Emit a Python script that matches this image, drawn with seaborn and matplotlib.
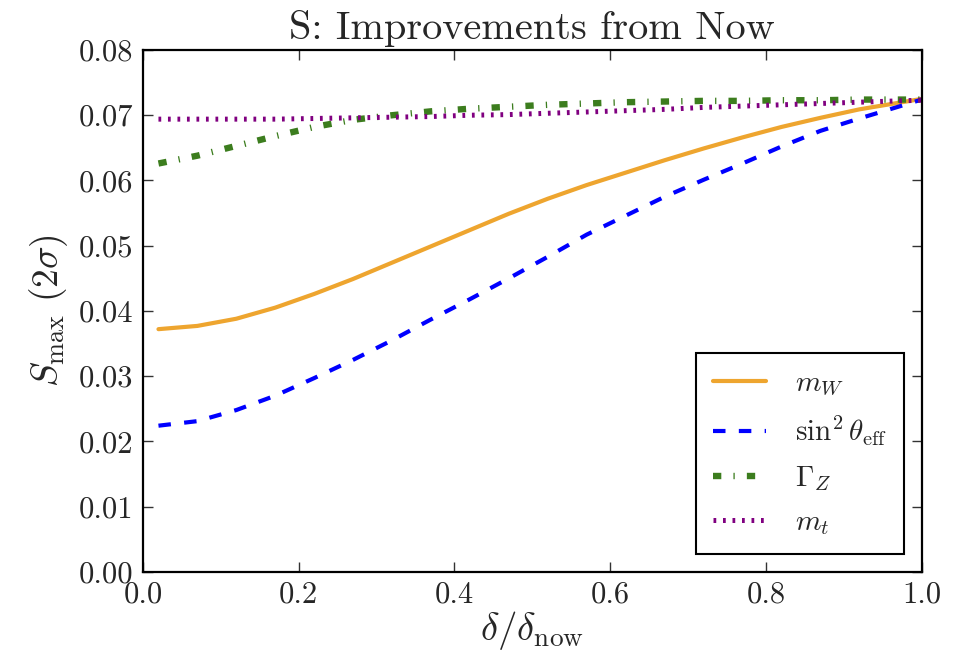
import numpy as np
import pandas as pd
import matplotlib
matplotlib.use("Agg")
import matplotlib.pyplot as plt
import seaborn as sns

# ---- data ----
x_vals = [0.02, 0.07, 0.12, 0.17, 0.22, 0.27, 0.32, 0.37, 0.42, 0.47, 0.52,
          0.57, 0.62, 0.67, 0.72, 0.77, 0.82, 0.87, 0.92, 0.97, 1.0]
m_W = [0.0372, 0.0377, 0.0388, 0.0405, 0.0426, 0.0449, 0.0474, 0.0499, 0.0524,
       0.0549, 0.0572, 0.0593, 0.0612, 0.0631, 0.0649, 0.0666, 0.0682, 0.0696,
       0.0709, 0.0719, 0.0725]
sin2 = [0.0224, 0.0231, 0.0248, 0.0270, 0.0297, 0.0325, 0.0355, 0.0387, 0.0418,
        0.0450, 0.0483, 0.0517, 0.0546, 0.0575, 0.0601, 0.0626, 0.0652, 0.0676,
        0.0695, 0.0713, 0.0724]
Gamma_Z = [0.0626, 0.0638, 0.0653, 0.0668, 0.0682, 0.0693, 0.0700, 0.0706,
           0.0710, 0.0713, 0.0716, 0.0718, 0.0720, 0.0721, 0.0722, 0.0722,
           0.0723, 0.0723, 0.0724, 0.0724, 0.0724]
m_t = [0.0694, 0.0694, 0.0694, 0.0694, 0.0695, 0.0696, 0.0697, 0.0698, 0.0700,
       0.0701, 0.0703, 0.0705, 0.0707, 0.0709, 0.0712, 0.0714, 0.0716, 0.0718,
       0.0720, 0.0722, 0.0723]
labels = [r'$m_W$', r'$\sin^2\theta_{\rm eff}$', r'$\Gamma_Z$', r'$m_t$']
x_ticks = [0.0, 0.2, 0.4, 0.6, 0.8, 1.0]
y_ticks = [0.00, 0.01, 0.02, 0.03, 0.04, 0.05, 0.06, 0.07, 0.08]

sns.set_style("ticks")
plt.rcParams['font.family'] = 'serif'
plt.rcParams['font.serif'] = ['cmr10']
plt.rcParams['mathtext.fontset'] = 'cm'
plt.rcParams['axes.formatter.use_mathtext'] = True
plt.rcParams['axes.unicode_minus'] = False

fig = plt.figure(figsize=(9.59, 6.58), dpi=100)
ax = fig.add_axes([0.149, 0.131, 0.812, 0.793])

series = [m_W, sin2, Gamma_Z, m_t]
colors = ['#EEA52F', '#0000FF', '#3C7D1E', '#800080']
widths = [3.0, 3.0, 4.6, 3.6]
dashes = [None, (3.0, 3.2), (1.3, 1.9, 0.2, 1.9), (0.55, 1.35)]

for ys, lab, c, lw, d in zip(series, labels, colors, widths, dashes):
    df = pd.DataFrame({'x': x_vals, 'y': ys})
    line_kw = dict(color=c, linewidth=lw, label=lab, ax=ax)
    sns.lineplot(data=df, x='x', y='y', **line_kw)
    ln = ax.get_lines()[-1]
    if d is not None:
        ln.set_dashes(d)
        ln.set_dash_capstyle('butt')

ax.set_xlim(0, 1.0)
ax.set_ylim(0, 0.08)
ax.set_xticks(x_ticks)
ax.set_yticks(y_ticks)
ax.set_xticklabels([f'{v:.1f}' for v in x_ticks])
ax.set_yticklabels([f'{v:.2f}' for v in y_ticks])
ax.tick_params(direction='in', top=True, right=True, length=7, width=1,
               labelsize=22, pad=7, color='#333333')
for s in ax.spines.values():
    s.set_visible(True)
    s.set_linewidth(1.6)
    s.set_color('black')

ax.set_title('S: Improvements from Now', fontsize=29, pad=8)
ax.set_xlabel(r'$\delta/\delta_{\rm now}$', fontsize=28, labelpad=0)
ax.set_ylabel(r'$S_{\rm max}\ (2\sigma)$', fontsize=27, labelpad=6)

leg = ax.legend(loc='lower right', fontsize=21, frameon=True, fancybox=False,
                edgecolor='black', framealpha=1, handlelength=1.8,
                borderpad=0.6, labelspacing=0.55, handletextpad=1.0,
                borderaxespad=0.6)
leg.get_frame().set_linewidth(1.5)

fig.savefig('out.png', dpi=100)
